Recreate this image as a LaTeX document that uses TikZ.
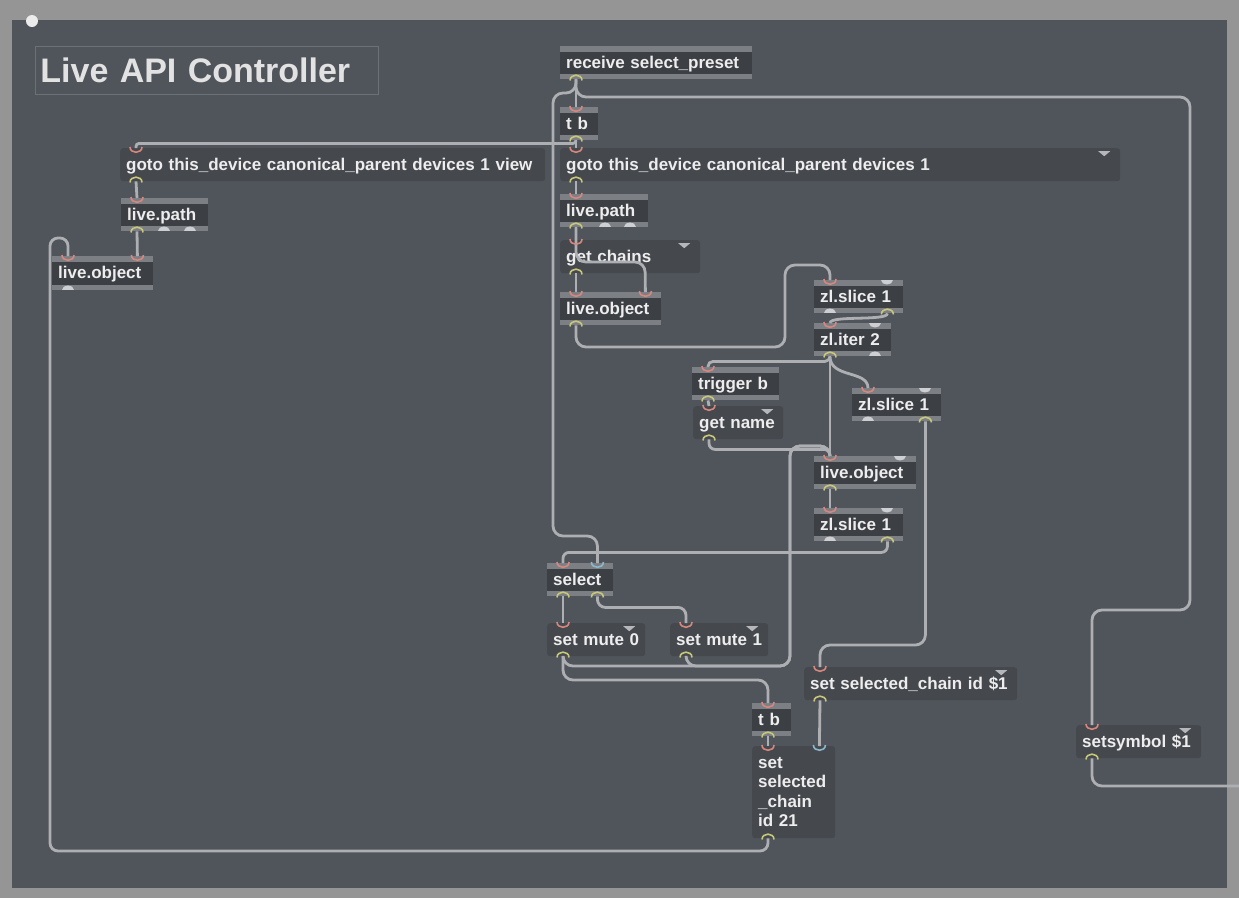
\documentclass[tikz,border=0pt]{standalone}
\usepackage{fontspec}
\setmainfont{Liberation Sans}
\usetikzlibrary{calc}

\definecolor{framecol}{HTML}{959595}
\definecolor{patchcol}{HTML}{50555C}
\definecolor{objbody}{HTML}{3C3F44}
\definecolor{objbar}{HTML}{7C7F84}
\definecolor{msgbody}{HTML}{45484D}
\definecolor{cordcol}{HTML}{ADAFB3}
\definecolor{inred}{HTML}{D8877F}
\definecolor{outyel}{HTML}{C9C77A}
\definecolor{inblue}{HTML}{8CB8CC}
\definecolor{nubcol}{HTML}{CDCFD3}
\definecolor{labelcol}{HTML}{EDEDED}
\definecolor{titleline}{HTML}{6C7077}

\newcommand\maxfont{\bfseries\fontsize{17}{19.5}\selectfont}
\newcommand\commentfont{\bfseries\fontsize{34}{40}\selectfont}

\tikzset{
  box/.style={anchor=north west, inner xsep=6pt, inner ysep=0pt, text=labelcol,
    font=\maxfont, align=left, text height=13pt, text depth=2pt, minimum height=33pt},
  obj/.style={box, fill=objbody, text width=#1pt,
    path picture={
      \fill[objbar] (path picture bounding box.north west) rectangle ([yshift=-5.5pt]path picture bounding box.north east);
      \fill[objbar] (path picture bounding box.south west) rectangle ([yshift=5.5pt]path picture bounding box.south east);}},
  mbox/.style={box, fill=msgbody, rounded corners=3pt, text width=#1pt},
  dd/.style={path picture={\fill[nubcol!70!gray, sharp corners] ([xshift=-22pt,yshift=-3pt]path picture bounding box.north east)
      -- ++(12pt,0pt) -- ++(-6pt,-5pt) -- cycle;}},
  cord/.style={draw=cordcol, line width=2.8pt, rounded corners=10pt},
  inl/.pic={\draw[inred, line width=1.6pt] (-6,-1) .. controls (-6,6) and (6,6) .. (6,-1);},
  inlb/.pic={\draw[inblue, line width=1.6pt] (-6,-1) .. controls (-6,6) and (6,6) .. (6,-1);},
  outl/.pic={\draw[outyel, line width=1.6pt] (-6,1) .. controls (-6,-6) and (6,-6) .. (6,1);},
  nubin/.pic={\fill[nubcol] (-6,0) .. controls (-6,6) and (6,6) .. (6,0) -- cycle;},
  nubout/.pic={\fill[nubcol] (-6,0) .. controls (-6,-6) and (6,-6) .. (6,0) -- cycle;},
}

\begin{document}
\begin{tikzpicture}[x=1pt, y=-1pt]
  \useasboundingbox (0,0) rectangle (1239,898);
  \fill[framecol] (0,0) rectangle (1239,898);
  \fill[patchcol] (12,20) rectangle (1227,888);
  \fill[white!85!gray] (32,21) circle (6pt);

  % comment
  \node[draw=titleline, line width=0.8pt, anchor=north west, inner xsep=5pt, text width=333pt,
    minimum height=48pt, text=labelcol!90!gray, font=\commentfont] (title) at (35,46) {Live API Controller};

  % objects and messages
  \node[obj=180] (rcv) at (560,46) {receive select\_preset};
  \node[obj=26] (tb) at (560,107) {t b};
  \node[mbox=413] (gview) at (120,148) {goto this\_device canonical\_parent devices 1 view};
  \node[mbox=548, dd] (gdev) at (560,148) {goto this\_device canonical\_parent devices 1};
  \node[obj=75] (lpl) at (121,198) {live.path};
  \node[obj=89, minimum height=34pt] (lol) at (52,256) {live.object};
  \node[obj=76] (lpr) at (560,194) {live.path};
  \node[mbox=128, dd] (gch) at (560,240) {get chains};
  \node[obj=89] (lom) at (560,292) {live.object};
  \node[obj=77] (sl1) at (814,280) {zl.slice 1};
  \node[obj=65] (it) at (814,323) {zl.iter 2};
  \node[obj=75] (trb) at (692,367) {trigger b};
  \node[mbox=78, dd] (gnm) at (693,406) {get name};
  \node[obj=77] (slr) at (852,388) {zl.slice 1};
  \node[obj=90] (lol2) at (814,456) {live.object};
  \node[obj=77] (slo) at (814,508) {zl.slice 1};
  \node[obj=54] (sel) at (547,563) {select};
  \node[mbox=86, dd] (m0) at (547,623) {set mute 0};
  \node[mbox=86, dd] (m1) at (670,623) {set mute 1};
  \node[mbox=201, dd] (ssc) at (804,667) {set selected\_chain id \$1};
  \node[obj=27] (tb2) at (752,703) {t b};
  \node[mbox=71, text height=, text depth=, minimum height=92pt] (msg) at (752,746) {set\\selected\\\_chain\\id 21};
  \node[mbox=113, dd] (sym) at (1076,725) {setsymbol \$1};

  % ports
  \foreach \n in {rcv,tb,gview,gdev,lpl,lol,lpr,gch,lom,sl1,it,trb,gnm,slr,lol2,slo,sel,m0,m1,ssc,tb2,msg,sym} {
    \coordinate (\n-i) at ([xshift=16pt]\n.north west);
    \coordinate (\n-o) at ([xshift=16pt]\n.south west);
    \coordinate (\n-ir) at ([xshift=-16pt]\n.north east);
    \coordinate (\n-or) at ([xshift=-16pt]\n.south east);
  }
  \coordinate (rim) at (1239,786);

  % patch cords
  \draw[cord] (rcv-o) -- (tb-i);
  \draw[cord] (rcv-o) |- (553,93) -- (553,536) -| (sel-ir);
  \draw[cord] (rcv-o) |- (1190,97) |- (1092,610) -- (sym-i);
  \draw[cord] (sym-o) |- (rim);
  \draw[cord] (tb-o) -- (gdev-i);
  \draw[cord, rounded corners=3pt] (tb-o) -- ++(0,3) -| (gview-i);
  \draw[cord] (gview-o) -- (lpl-i);
  \draw[cord] (lpl-o) -- (lol-ir);
  \draw[cord, rounded corners=8pt] (msg-o) |- (50,851) |- (68,238) -- (lol-i);
  \draw[cord] (gdev-o) -- (lpr-i);
  \draw[cord] (lpr-o) -- (gch-i);
  \draw[cord] (gch-o) -- (lom-i);
  \draw[cord] (lpr-o) |- (645,262) -- (lom-ir);
  \draw[cord] (lom-o) |- (785,347) |- (830,265) -- (sl1-i);
  \draw[cord] (sl1-or) .. controls +(0,8) and +(0,-8) .. (it-i);
  \draw[cord, rounded corners=5pt] (it-o) -- ++(0,5) -| (trb-i);
  \draw[cord] (it-o) .. controls +(0,22) and +(0,-18) .. (slr-i);
  \draw[cord] (it-o) -- (lol2-i);
  \draw[cord] (trb-o) -- (gnm-i);
  \draw[cord, rounded corners=6pt] (gnm-o) -- ++(0,10) -| (lol2-i);
  \draw[cord] (lol2-o) -- (slo-i);
  \draw[cord, rounded corners=6pt] (slo-or) -- ++(0,11) -| (sel-i);
  \draw[cord] (sel-o) -- (m0-i);
  \draw[cord, rounded corners=8pt] (sel-or) -- ++(0,11) -| (m1-i);
  \draw[cord] (m0-o) |- (790,666) |- (830,446) -- (lol2-i);
  \draw[cord] (m1-o) |- (790,666) |- (830,446) -- (lol2-i);
  \draw[cord] (m0-o) |- (768,680) -- (tb2-i);
  \draw[cord] (tb2-o) -- (msg-i);
  \draw[cord] (slr-or) |- (820,645) -- (ssc-i);
  \draw[cord] (ssc-o) -- (msg-ir);

  % inlets and outlets
  \foreach \p in {tb-i,gview-i,gdev-i,lpl-i,lol-i,lol-ir,lpr-i,gch-i,lom-i,lom-ir,sl1-i,it-i,trb-i,
      gnm-i,slr-i,lol2-i,slo-i,sel-i,m0-i,m1-i,ssc-i,tb2-i,msg-i,sym-i}
    \pic at (\p) {inl};
  \foreach \p in {sel-ir,msg-ir}
    \pic at (\p) {inlb};
  \foreach \p in {rcv-o,tb-o,gview-o,gdev-o,lpl-o,lpr-o,gch-o,lom-o,sl1-or,it-o,trb-o,gnm-o,slr-or,
      lol2-o,slo-or,sel-o,sel-or,m0-o,m1-o,ssc-o,tb2-o,msg-o,sym-o}
    \pic at (\p) {outl};
  \foreach \p in {sl1-ir,it-ir,slr-ir,lol2-ir,slo-ir}
    \pic at (\p) {nubin};
  \foreach \p in {sl1-o,it-or,slr-o,slo-o,lol-o}
    \pic at (\p) {nubout};
  \pic at ([xshift=43pt]lpl.south west) {nubout};
  \pic at ([xshift=69pt]lpl.south west) {nubout};
  \pic at ([xshift=45pt]lpr.south west) {nubout};
  \pic at ([xshift=70pt]lpr.south west) {nubout};
\end{tikzpicture}
\end{document}
